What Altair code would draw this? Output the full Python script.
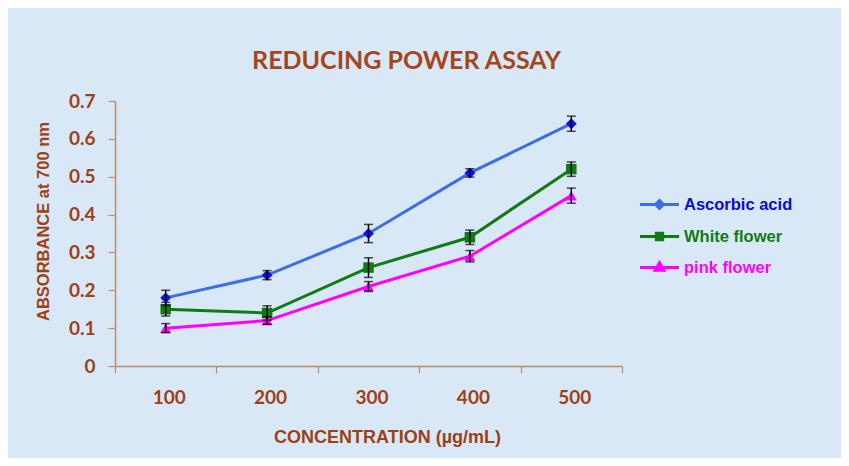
import altair as alt
import pandas as pd

concentrations = ["100", "200", "300", "400", "500"]
series_names = ["Ascorbic acid", "White flower", "pink flower"]

ascorbic = [0.18, 0.24, 0.35, 0.51, 0.64]
ascorbic_err = [0.020, 0.012, 0.024, 0.011, 0.020]
white = [0.15, 0.14, 0.26, 0.34, 0.52]
white_err = [0.018, 0.019, 0.026, 0.019, 0.019]
pink = [0.10, 0.12, 0.21, 0.29, 0.45]
pink_err = [0.012, 0.010, 0.013, 0.015, 0.020]

y_ticks = [0, 0.1, 0.2, 0.3, 0.4, 0.5, 0.6, 0.7]

line_colors = ["#3c6ee8", "#127a12", "#ff00ff"]
marker_colors = ["#1010ee", "#127a12", "#ff00ff"]
label_colors = ["#0b0bd6", "#127a12", "#ff00ff"]
shapes = ["diamond", "square", "triangle-up"]
marker_sizes = [120, 110, 120]

rows = []
for name, vals, errs in [(series_names[0], ascorbic, ascorbic_err),
                         (series_names[1], white, white_err),
                         (series_names[2], pink, pink_err)]:
    for c, v, e in zip(concentrations, vals, errs):
        rows.append({"conc": c, "series": name, "value": v,
                     "lo": v - e, "hi": v + e})
df = pd.DataFrame(rows)

BROWN = "#9e3f14"
AXIS = "#c08a62"

x_enc = alt.X("conc:N", sort=concentrations,
              scale=alt.Scale(type="band", paddingInner=0, paddingOuter=0),
              axis=alt.Axis(title="CONCENTRATION (µg/mL)", labelAngle=0,
                            tickBand="extent", tickSize=7, tickColor=AXIS,
                            domainColor=AXIS, domainWidth=1.5, tickWidth=1.2,
                            labelFont="Lato", labelFontSize=19, labelFontWeight="bold",
                            labelColor=BROWN, labelPadding=15, labelOffset=3,
                            titleFont="Liberation Sans", titleFontSize=18,
                            titleFontWeight="bold", titleColor=BROWN,
                            titleX=272, titleY=71, titleBaseline="middle",
                            grid=False))

y_scale = alt.Scale(domain=[0, 0.7], nice=False, zero=True)
y_axis = alt.Axis(title="ABSORBANCE at 700 nm", values=y_ticks,
                  format=".1~f", tickSize=7, tickColor=AXIS, domainColor=AXIS,
                  domainWidth=1.5, tickWidth=1.2, grid=False, labelOverlap=False,
                  labelFlush=False,
                  labelFont="Lato", labelFontSize=19, labelFontWeight="bold",
                  labelColor=BROWN, labelPadding=13,
                  titleFont="Liberation Sans", titleFontSize=16.5, titleFontWeight="bold",
                  titleColor=BROWN, titleX=-72, titleY=120, titleBaseline="middle",
                  titleAngle=-90)

def pick(values):
    return ("datum.label == '%s' ? '%s' : datum.label == '%s' ? '%s' : '%s'"
            % (series_names[0], values[0], series_names[1], values[1], values[2]))

legend_paths = [
    "M-1.24,0H1.24M0,-0.25L0.25,0L0,0.25L-0.25,0Z",
    "M-1.24,0H1.24M-0.2,-0.2H0.2V0.2H-0.2Z",
    "M-1.24,0H1.24M0,-0.3L0.27,0.18L-0.27,0.18Z",
]

legend = alt.Legend(
    title=None, orient="none", legendX=527, legendY=86, padding=0,
    rowPadding=4, labelOffset=7, symbolSize=992, symbolStrokeWidth=3,
    labelFont="Liberation Sans", labelFontSize=16.5, labelFontWeight="bold",
    labelColor={"expr": pick(label_colors)},
    symbolType={"expr": pick(legend_paths)},
    symbolStrokeColor={"expr": pick(line_colors)},
    symbolFillColor={"expr": pick(marker_colors)},
)

base = alt.Chart(df)

lines = base.mark_line(strokeWidth=3).encode(
    x=x_enc,
    y=alt.Y("value:Q", scale=y_scale, axis=y_axis),
    color=alt.Color("series:N", sort=series_names,
                    scale=alt.Scale(domain=series_names, range=line_colors),
                    legend=legend),
)

point_layers = []
for name, shp, col, sz in zip(series_names, shapes, marker_colors, marker_sizes):
    point_layers.append(
        base.transform_filter(alt.datum.series == name)
        .mark_point(filled=True, opacity=1, size=sz, shape=shp, color=col)
        .encode(x=x_enc, y=alt.Y("value:Q", scale=y_scale, axis=y_axis))
    )

err_rule = base.mark_rule(color="black", strokeWidth=1.5).encode(
    x=x_enc,
    y=alt.Y("lo:Q", scale=y_scale, axis=y_axis),
    y2="hi:Q",
)
cap_lo = base.mark_tick(color="black", thickness=1.5, size=9, orient="horizontal").encode(
    x=x_enc, y=alt.Y("lo:Q", scale=y_scale, axis=y_axis))
cap_hi = base.mark_tick(color="black", thickness=1.5, size=9, orient="horizontal").encode(
    x=x_enc, y=alt.Y("hi:Q", scale=y_scale, axis=y_axis))

chart = alt.layer(lines, *point_layers, err_rule, cap_lo, cap_hi).properties(
    width=507, height=265,
    title=alt.Title("REDUCING POWER ASSAY", font="Lato", fontSize=25, fontWeight="bold",
                    color="#a4461c", anchor="middle", dx=38, offset=18),
    autosize=alt.AutoSizeParams(type="none"),
    padding={"left": 107, "top": 93, "right": 219, "bottom": 92},
    background="#d9e8f7",
).configure_view(stroke=None)

chart.save("out.html", embed_options={"renderer": "svg", "actions": False})
